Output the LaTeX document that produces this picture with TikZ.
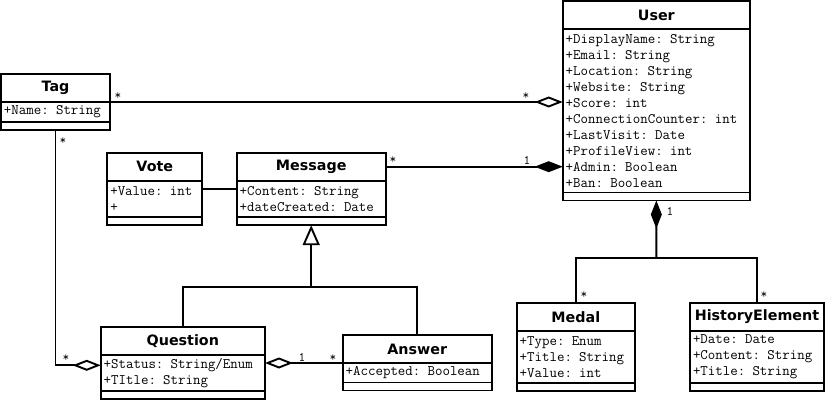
\documentclass[tikz,border=0pt]{standalone}
\usepackage{fontspec}
\usepackage{tikz}
\usetikzlibrary{positioning, arrows.meta}
\newfontfamily\umlsans{DejaVu Sans}

\begin{document}
\begin{tikzpicture}[x=1pt, y=-1pt, line width=1.9pt,
		cls/.style={draw, outer sep=0pt, inner sep=0pt, anchor=north west,
				minimum height=28pt, font=\umlsans\fontsize{14.3}{16}\selectfont\bfseries},
		attr/.style={draw, outer sep=0pt, inner xsep=3pt, inner ysep=0pt,
				below=0pt of #1, align=left,
				font=\ttfamily\fontsize{14.5}{16}\selectfont},
		ops/.style={draw, outer sep=0pt, inner sep=0pt, minimum height=8pt,
				below=0pt of #1},
		mult/.style={inner sep=0pt, font=\ttfamily\fontsize{13}{13}\selectfont},
		aggr/.style={{Diamond[open, length=28pt, width=11pt]}-},
		comp/.style={{Diamond[length=28pt, width=11pt]}-},
		inherit/.style={-{Triangle[open, length=20pt, width=17pt]}}]
	\useasboundingbox (0,0) rectangle (827,401);

	% classes
	\node[cls, minimum width=109pt] (tag) at (1,74) {Tag};
	\node[attr=tag, text width=103pt, minimum height=20pt] (tagattr) {+Name: String\\};
	\node[ops=tagattr, minimum width=109pt] (tagops) {};

	\node[cls, minimum width=95pt] (vote) at (107.3,152.7) {Vote};
	\node[attr=vote, text width=89pt, minimum height=36.5pt] (voteattr) {+Value: int\\+\\};
	\node[ops=voteattr, minimum width=95pt] (voteops) {};

	\node[cls, minimum width=149pt] (msg) at (236.7,152.7) {Message};
	\node[attr=msg, text width=143pt, minimum height=36.5pt] (msgattr)
		{+Content: String\\+dateCreated: Date\\};
	\node[ops=msgattr, minimum width=149pt] (msgops) {};

	\node[cls, minimum width=187.3pt] (user) at (562.7,1) {User};
	\node[attr=user, text width=181.3pt, minimum height=163.5pt] (userattr)
		{+DisplayName: String\\+Email: String\\+Location: String\\+Website: String\\
			+Score: int\\+ConnectionCounter: int\\+LastVisit: Date\\+ProfileView: int\\
			+Admin: Boolean\\+Ban: Boolean\\};
	\node[ops=userattr, minimum width=187.3pt] (userops) {};

	\node[cls, minimum width=118.3pt] (medal) at (516.7,302.7) {Medal};
	\node[attr=medal, text width=112.3pt, minimum height=52pt] (medalattr)
		{+Type: Enum\\+Title: String\\+Value: int\\};
	\node[ops=medalattr, minimum width=118.3pt] (medalops) {};

	\node[cls, minimum width=134pt] (hist) at (690,302.7) {HistoryElement};
	\node[attr=hist, text width=128pt, minimum height=52pt] (histattr)
		{+Date: Date\\+Content: String\\+Title: String\\};
	\node[ops=histattr, minimum width=134pt] (histops) {};

	\node[cls, minimum width=164.3pt] (question) at (100.7,327.3) {Question};
	\node[attr=question, text width=158.3pt, minimum height=36pt] (questionattr)
		{+Status: String/Enum\\+TItle: String\\};
	\node[ops=questionattr, minimum width=164.3pt] (questionops) {};

	\node[cls, minimum width=149pt] (answer) at (342.7,335) {Answer};
	\node[attr=answer, text width=143pt, minimum height=19.5pt] (answerattr)
		{+Accepted: Boolean\\};
	\node[ops=answerattr, minimum width=149pt] (answerops) {};

	% associations
	\draw[aggr] (userattr.west |- tag.south east) -- (tag.south east);
	\draw[comp] (userattr.west |- msg.east) -- (msg.east);
	\draw ([yshift=10pt]voteattr.east) -- ([yshift=10pt]voteattr.east -| msgattr.west);
	\draw[aggr] ([yshift=8pt]questionattr.west) -| (tagops.south);
	\draw[aggr] (answer.south west -| questionattr.east) -- (answer.south west);

	\coordinate (inh) at (311.2,287);
	\draw (question.north) |- (inh) -| (answer.north);
	\draw[inherit] (inh) -- (msgops.south);

	\coordinate (own) at (656.3,258.3);
	\draw[comp] (userops.south) -- (own);
	\draw (medal.north) |- (own) -| (hist.north);

	% multiplicities
	\node[mult] (m1) at (118,96.5) {*};
	\node[mult] (m2) at (526,96.5) {*};
	\node[mult] (m3) at (393,160.5) {*};
	\node[mult] (m4) at (527,160) {1};
	\node[mult] (m5) at (63,141) {*};
	\node[mult] (m6) at (66,358) {*};
	\node[mult] (m7) at (302,357) {1};
	\node[mult] (m8) at (333,358) {*};
	\node[mult] (m9) at (670,211) {1};
	\node[mult] (m10) at (584,295.5) {*};
	\node[mult] (m11) at (764,295.5) {*};
\end{tikzpicture}
\end{document}
